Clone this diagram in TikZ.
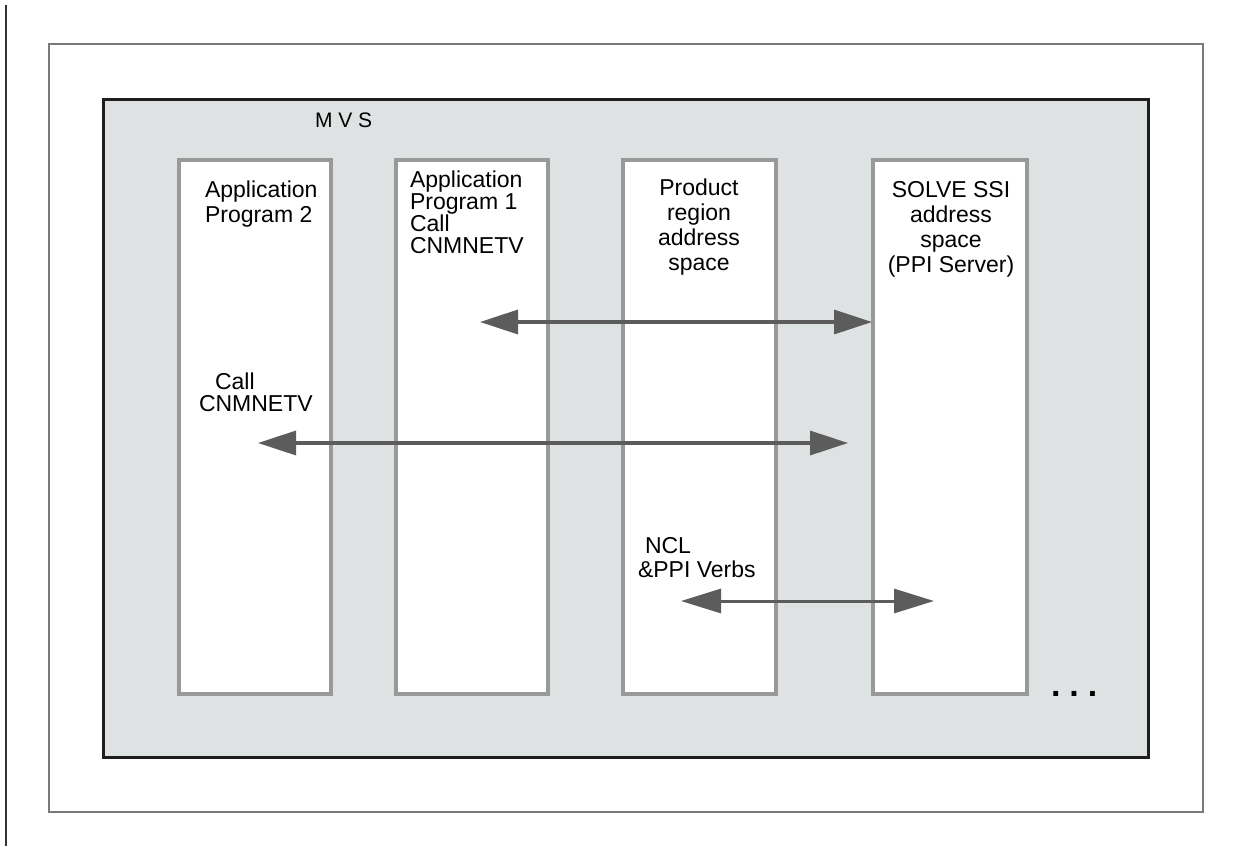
\documentclass[tikz,border=0pt]{standalone}
\usepackage{fontspec}
\setmainfont{Liberation Sans}
\usetikzlibrary{arrows.meta}
\definecolor{mvsfill}{HTML}{DFE2E3}
\definecolor{boxline}{HTML}{999999}
\definecolor{arrowc}{HTML}{5C5C5C}
\definecolor{mvsline}{HTML}{1E1E1E}
\definecolor{frameline}{HTML}{7A7A7A}
\begin{document}
\begin{tikzpicture}[x=1pt,y=-1pt,
  region/.style={draw=boxline,line width=3.5pt,fill=white,minimum width=152pt,minimum height=534pt,inner sep=0pt,outer sep=0pt},
  lbl/.style={inner sep=0pt,outer sep=0pt,text=black},
  link/.style={draw=arrowc,line width=3.3pt,{Triangle[length=38pt,width=24pt]}-{Triangle[length=38pt,width=24pt]}},
]
\useasboundingbox[fill=white] (0,0) rectangle (1250,846);
% left margin line
\coordinate (ml1) at (6,5);
\coordinate (ml2) at (6,846);
\draw[draw=black!80,line width=1.5pt] (ml1) -- (ml2);
% outer frame
\node[draw=frameline,line width=1.5pt,minimum width=1154pt,minimum height=768pt,inner sep=0pt,outer sep=0pt] (frame) at (626,428) {};
% MVS
\node[draw=mvsline,fill=mvsfill,line width=3pt,minimum width=1045pt,minimum height=658pt,inner sep=0pt,outer sep=0pt] (mvs) at (625.5,428) {};
\node[lbl,anchor=base west,font=\fontsize{21pt}{24pt}\selectfont] (mvslbl) at (315,127) {M V S};
% regions
\node[region] (app2) at (255,427) {};
\node[region] (app1) at (472,427) {};
\node[region,minimum width=153pt] (prod) at (699.5,427) {};
\node[region,minimum width=154pt] (solve) at (950,427) {};
% labels (base anchor = baseline of the last line)
\node[lbl,anchor=base west,align=left,font=\fontsize{23pt}{25pt}\selectfont] (t2) at (205,222) {Application\\Program 2};
\node[lbl,anchor=base west,align=left,font=\fontsize{23pt}{22pt}\selectfont] (t1) at (410,253) {Application\\Program 1\\Call\\CNMNETV};
\node[lbl,anchor=base,align=center,font=\fontsize{23pt}{25pt}\selectfont] (tp) at (699,270) {Product\\region\\address\\space};
\node[lbl,anchor=base,align=center,font=\fontsize{23pt}{25pt}\selectfont] (ts) at (951,272) {SOLVE SSI\\address\\space\\(PPI Server)};
\node[lbl,anchor=base west,align=left,font=\fontsize{23pt}{22pt}\selectfont] (tc) at (199,411) {\hspace*{16pt}Call\\CNMNETV};
\node[lbl,anchor=base west,align=left,font=\fontsize{23pt}{24pt}\selectfont] (tn) at (638,577) {\hspace*{7pt}NCL\\\&PPI Verbs};
% ellipsis
\node[lbl,anchor=base west,font=\fontsize{34pt}{34pt}\selectfont\bfseries] (dots) at (1051,696) {.\hspace{9pt}.\hspace{9pt}.};
% arrows
\coordinate (a1l) at (480,322);
\coordinate (a1r) at (872,322);
\coordinate (a2l) at (258,443);
\coordinate (a2r) at (848,443);
\coordinate (a3l) at (681,601);
\coordinate (a3r) at (934,601);
\draw[link] (a1l) -- (a1r);
\draw[link] (a2l) -- (a2r);
\draw[link,line width=3pt,{Triangle[length=40pt,width=24pt]}-{Triangle[length=40pt,width=24pt]}] (a3l) -- (a3r);
\end{tikzpicture}
\end{document}
